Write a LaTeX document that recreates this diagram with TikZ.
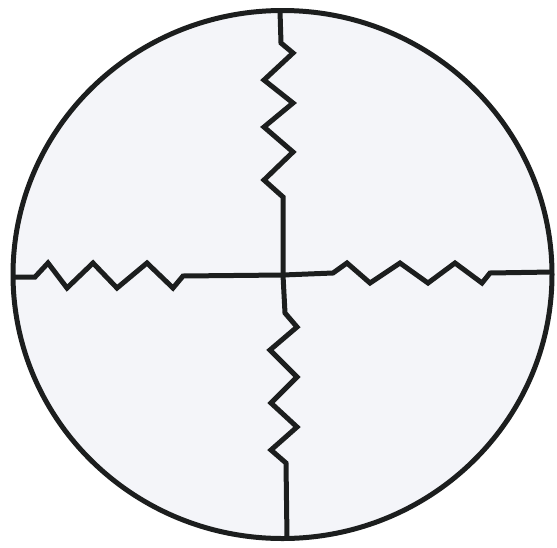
\documentclass[tikz,border=0pt]{standalone}
\definecolor{paper}{RGB}{244,245,249}
\definecolor{inkc}{RGB}{28,30,30}
\begin{document}
\begin{tikzpicture}[x=1pt,y=-1pt,
  ink/.style={draw=inkc,line width=5pt,line join=miter,line cap=butt}]
\useasboundingbox (0,0) rectangle (557,547);
\fill[white] (0,0) rectangle (557,547);
\coordinate (c) at (283,275);
\draw[ink,fill=paper] (282.5,274.5) ellipse [x radius=269.5, y radius=264];
% top
\draw[ink] (280,11) -- (281,43) -- (293,53) -- (264,80) -- (293,103) -- (264,127) -- (293,152) -- (264,180) -- (283,197) -- (c);
% bottom
\draw[ink] (c) -- (285,313) -- (297,327) -- (270,350) -- (297,377) -- (271,403) -- (297,427) -- (271,450) -- (286,463) -- (287,538);
% left
\draw[ink] (13,277) -- (35,277) -- (48,263) -- (67,288) -- (93,263) -- (117,288) -- (147,263) -- (173,288) -- (183,276) -- (c);
% right
\draw[ink] (c) -- (333,273) -- (347,263) -- (370,283) -- (400,263) -- (428,283) -- (455,263) -- (482,283) -- (490,273) -- (552,272);
\end{tikzpicture}
\end{document}
